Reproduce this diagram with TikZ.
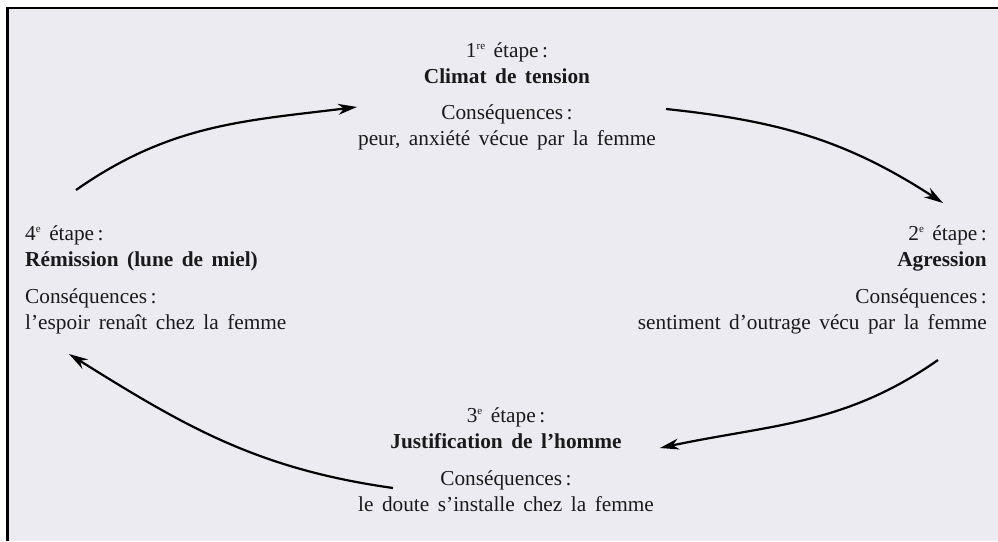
\documentclass[tikz,border=0pt]{standalone}
\usepackage{fontspec}
\setmainfont{Liberation Serif}[WordSpace=1.6]
\usetikzlibrary{arrows.meta,positioning}
\definecolor{fond}{HTML}{ECEBF1}
\definecolor{encre}{HTML}{1A1A1A}
\newcommand\expo[1]{\raisebox{8pt}{\fontsize{11}{11}\selectfont #1}}
\tikzset{
  fleche/.style={line width=2.2pt,draw=black,-{Stealth[length=19pt,width=11pt,inset=6pt]}},
  texte/.style={inner sep=0pt,text=encre,font=\fontsize{21.3}{26}\selectfont}
}
\begin{document}
\begin{tikzpicture}[x=1pt,y=1pt]
\useasboundingbox (0,0) rectangle (998,541);
\fill[white] (0,0) rectangle (998,541);
\fill[fond] (7.3,0) rectangle (998,533);
\draw[line width=2.7pt] (7.3,0)--(7.3,533)--(998,533);
% les quatre etapes
\node[texte,align=center,anchor=base] (titre1) at (507,457) {1\expo{re} étape\,:\\\textbf{Climat de tension}};
\node[texte,align=center,anchor=base] (consq1) at (507,395) {Conséquences\,:\\peur, anxiété vécue par la femme};
\node[texte,align=right,anchor=base east] (titre2) at (987,274) {2\expo{e} étape\,:\\\textbf{Agression}};
\node[texte,align=right,anchor=base east] (consq2) at (987,211) {Conséquences\,:\\sentiment d’outrage vécu par la femme};
\node[texte,align=center,anchor=base] (titre3) at (506,93) {3\expo{e} étape\,:\\\textbf{Justification de l’homme}};
\node[texte,align=center,anchor=base] (consq3) at (506,30) {Conséquences\,:\\le doute s’installe chez la femme};
\node[texte,align=left,anchor=base west] (titre4) at (25,274) {4\expo{e} étape\,:\\\textbf{Rémission (lune de miel)}};
\node[texte,align=left,anchor=base west] (consq4) at (25,211) {Conséquences\,:\\l’espoir renaît chez la femme};
% le cycle
\coordinate (d1) at (76,351);\coordinate (f1) at (357,434);
\coordinate (d2) at (666,432);\coordinate (f2) at (943,338);
\coordinate (d3) at (938,181);\coordinate (f3) at (660,93);
\coordinate (d4) at (393,53);\coordinate (f4) at (69,187);
\draw[fleche] (d1) to[out=35,in=187] (f1);
\draw[fleche] (d2) to[out=-6,in=147] (f2);
\draw[fleche] (d3) to[out=215,in=12] (f3);
\draw[fleche] (d4) to[out=172,in=-32] (f4);
\end{tikzpicture}
\end{document}
